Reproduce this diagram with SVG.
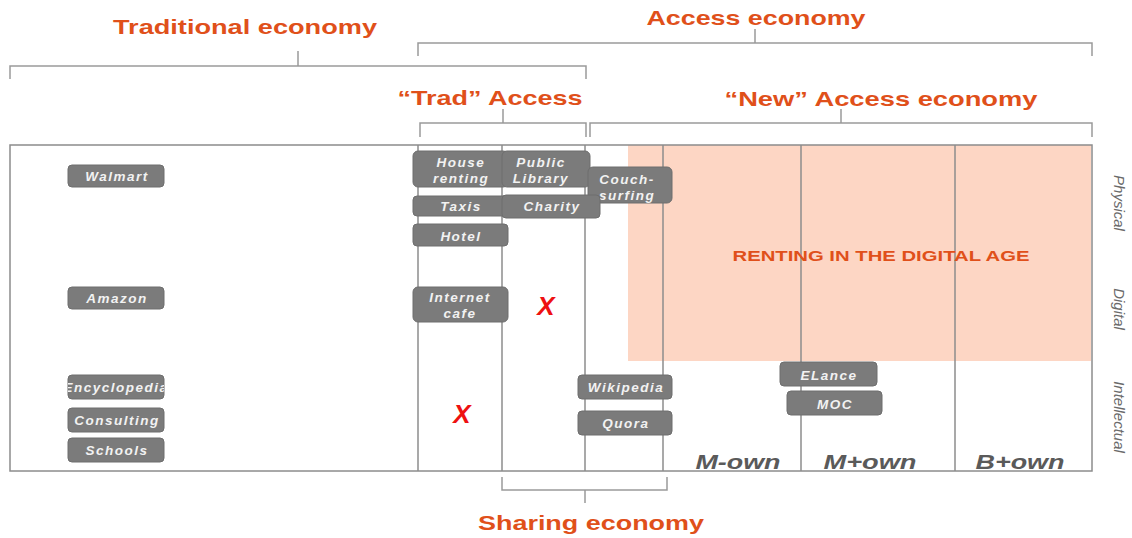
<svg xmlns="http://www.w3.org/2000/svg" width="1132" height="538" viewBox="0 0 1132 538">
<style>
.ln{stroke:#9a9a9a;stroke-width:1.5;fill:none}
.fr{stroke:#8c8c8c;stroke-width:1.5;fill:none}
.ttl{font-family:"Liberation Sans",Arial,sans-serif;font-weight:bold;fill:#E0501A;text-anchor:middle}
.box{fill:#7b7b7b;stroke:#6e6e6e;stroke-width:1}
.bt{font-family:"Liberation Sans",Arial,sans-serif;font-weight:bold;font-style:italic;font-size:13.5px;letter-spacing:1.5px;fill:#f2f2f2;text-anchor:middle}
.col{font-family:"Liberation Sans",Arial,sans-serif;font-weight:bold;font-style:italic;font-size:21px;fill:#5a5a5a;text-anchor:middle}
.side{font-family:"Liberation Sans",Arial,sans-serif;font-style:italic;font-size:15px;fill:#6a6a6a;text-anchor:middle}
.x{font-family:"Liberation Sans",Arial,sans-serif;font-weight:bold;font-style:italic;font-size:26px;fill:#ee1111;text-anchor:middle}
</style>
<defs><clipPath id="encClip"><rect x="68" y="375" width="96" height="24" rx="4"/></clipPath></defs>
<rect x="628" y="145" width="463" height="216" fill="#FDD6C4"/>
<g id="frame">
<rect x="10" y="145" width="1082" height="326" class="fr"/>
<line x1="418" y1="145" x2="418" y2="471" class="fr"/>
<line x1="502" y1="145" x2="502" y2="471" class="fr"/>
<line x1="585" y1="145" x2="585" y2="471" class="fr"/>
<line x1="663" y1="145" x2="663" y2="471" class="fr"/>
<line x1="801" y1="145" x2="801" y2="471" class="fr"/>
<line x1="955" y1="145" x2="955" y2="471" class="fr"/>
</g>
<g id="connectors">
<path class="ln" d="M418 56V43H1092V56M755 43V29"/>
<path class="ln" d="M10 79V66H586V79M298 66V51"/>
<path class="ln" d="M420 137V123H586V137M503 123V109"/>
<path class="ln" d="M590 137V123H1092V137M841 123V109"/>
<path class="ln" d="M502 477V490H667V477M585 490V503"/>
</g>
<text class="ttl" x="245" y="34" font-size="21" textLength="264" lengthAdjust="spacingAndGlyphs">Traditional economy</text>
<text class="ttl" x="756" y="25" font-size="21" textLength="219" lengthAdjust="spacingAndGlyphs">Access economy</text>
<text class="ttl" x="490" y="105" font-size="21" textLength="185" lengthAdjust="spacingAndGlyphs">“Trad” Access</text>
<text class="ttl" x="881" y="106" font-size="21" textLength="313" lengthAdjust="spacingAndGlyphs">“New” Access economy</text>
<text class="ttl" x="591" y="530" font-size="21" textLength="226" lengthAdjust="spacingAndGlyphs">Sharing economy</text>
<text class="ttl" x="881" y="261" font-size="15" textLength="297" lengthAdjust="spacingAndGlyphs">RENTING IN THE DIGITAL AGE</text>
<g id="walmart"><rect class="box" x="68" y="165" width="96" height="22" rx="4"/><text class="bt" x="117" y="181">Walmart</text></g>
<g id="amazon"><rect class="box" x="68" y="287" width="96" height="22" rx="4"/><text class="bt" x="117" y="303">Amazon</text></g>
<g id="encyclopedia"><rect class="box" x="68" y="375" width="96" height="24" rx="4"/><text class="bt" x="116" y="392" clip-path="url(#encClip)">Encyclopedia</text></g>
<g id="consulting"><rect class="box" x="68" y="408" width="96" height="24" rx="4"/><text class="bt" x="117" y="425">Consulting</text></g>
<g id="schools"><rect class="box" x="68" y="438" width="96" height="24" rx="4"/><text class="bt" x="117" y="455">Schools</text></g>
<g id="house-renting"><rect class="box" x="413" y="151" width="95" height="36" rx="5"/><text class="bt" x="461" y="167">House</text><text class="bt" x="461" y="183">renting</text></g>
<g id="public-library"><rect class="box" x="502" y="151" width="88" height="36" rx="5"/><text class="bt" x="541" y="167">Public</text><text class="bt" x="541" y="183">Library</text></g>
<g id="couch-surfing"><rect class="box" x="588" y="167" width="84" height="36" rx="5"/><text class="bt" x="627" y="184">Couch-</text><text class="bt" x="627" y="200">surfing</text></g>
<g id="taxis"><rect class="box" x="413" y="196" width="95" height="20" rx="4"/><text class="bt" x="461" y="211">Taxis</text></g>
<g id="charity"><rect class="box" x="502" y="195" width="98" height="23" rx="4"/><text class="bt" x="552" y="211">Charity</text></g>
<g id="hotel"><rect class="box" x="413" y="224" width="95" height="22" rx="4"/><text class="bt" x="461" y="241">Hotel</text></g>
<g id="internet-cafe"><rect class="box" x="413" y="287" width="95" height="35" rx="5"/><text class="bt" x="460" y="302">Internet</text><text class="bt" x="460" y="318">cafe</text></g>
<g id="wikipedia"><rect class="box" x="578" y="375" width="94" height="24" rx="4"/><text class="bt" x="626" y="392">Wikipedia</text></g>
<g id="quora"><rect class="box" x="578" y="411" width="94" height="24" rx="4"/><text class="bt" x="626" y="428">Quora</text></g>
<g id="elance"><rect class="box" x="780" y="362" width="97" height="24" rx="4"/><text class="bt" x="829" y="380">ELance</text></g>
<g id="moc"><rect class="box" x="787" y="391" width="95" height="24" rx="4"/><text class="bt" x="835" y="409">MOC</text></g>
<text class="x" x="546" y="315">X</text>
<text class="x" x="462" y="423">X</text>
<text class="col" x="738" y="469" textLength="85" lengthAdjust="spacingAndGlyphs">M-own</text>
<text class="col" x="870" y="469" textLength="93" lengthAdjust="spacingAndGlyphs">M+own</text>
<text class="col" x="1020" y="469" textLength="89" lengthAdjust="spacingAndGlyphs">B+own</text>
<text class="side" transform="translate(1114,203) rotate(90)">Physical</text>
<text class="side" transform="translate(1114,309) rotate(90)">Digital</text>
<text class="side" transform="translate(1114,417) rotate(90)">Intellectual</text>
</svg>
